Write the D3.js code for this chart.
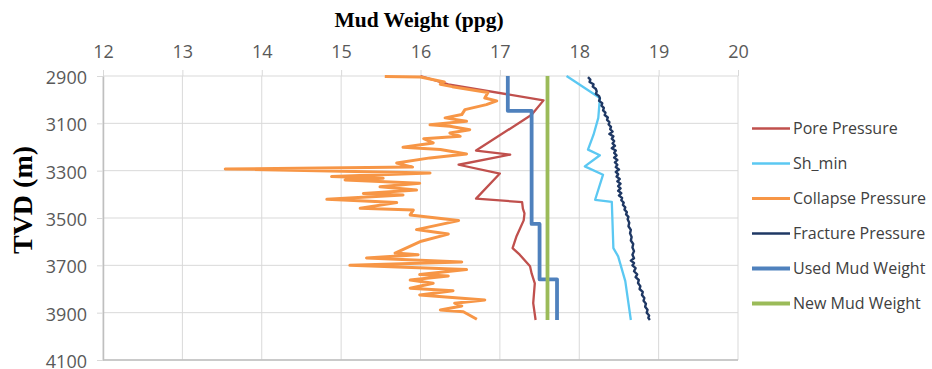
<!DOCTYPE html>
<html lang="en">
<head>
<meta charset="utf-8">
<title>Mud Weight vs TVD</title>
<script src="https://cdn.jsdelivr.net/npm/d3@7/dist/d3.min.js"></script>
<style>
  body { margin: 0; background: #fff; }
  .axis path { stroke: #bfbfbf; }
  .axis line { stroke: #d9d9d9; }
  .axis text { fill: #595959; font-family: "Open Sans", sans-serif; font-size: 18px; }
  .grid line { stroke: #d9d9d9; stroke-width: 1; }
  .legend text { fill: #404040; font-family: "Open Sans", sans-serif; font-size: 16px; }
</style>
</head>
<body>
<script>
// depth (m) and mud weight (ppg)
var xTicks = [12, 13, 14, 15, 16, 17, 18, 19, 20];
var yTicks = [2900, 3100, 3300, 3500, 3700, 3900, 4100];

var porePressure = [
  [2900, 16.0], [2935, 16.35], [3003, 17.55], [3064, 17.4], [3215, 16.7],
  [3232, 17.13], [3275, 16.48], [3312, 17.0], [3418, 16.7], [3433, 17.28],
  [3460, 17.29], [3480, 17.31], [3510, 17.3], [3577, 17.21], [3627, 17.16],
  [3655, 17.25], [3704, 17.38], [3734, 17.4], [3776, 17.44], [3860, 17.42],
  [3931, 17.45]
];

var shMin = [
  [2900, 17.84], [2993, 18.26], [3077, 18.24], [3148, 18.18], [3211, 18.11],
  [3235, 18.26], [3282, 18.07], [3317, 18.3], [3423, 18.2], [3432, 18.41],
  [3627, 18.43], [3662, 18.49], [3767, 18.58], [3931, 18.65]
];

var collapsePressure = [
  [2902, 15.55], [2904, 16.0], [2925, 16.3], [2935, 16.25], [2945, 16.4],
  [2970, 16.85], [2993, 16.81], [3005, 16.96], [3021, 16.83], [3042, 16.56],
  [3063, 16.52], [3077, 16.31], [3091, 16.58], [3106, 16.12], [3112, 16.37],
  [3127, 16.62], [3141, 16.37], [3155, 16.5], [3165, 16.04], [3183, 16.16],
  [3201, 15.78], [3211, 16.25], [3230, 16.58], [3246, 16.12], [3268, 15.7],
  [3285, 15.9], [3293, 13.54], [3310, 16.12], [3325, 14.88], [3332, 15.53],
  [3339, 15.05], [3353, 15.99], [3368, 15.49], [3382, 15.95], [3396, 15.28],
  [3403, 15.78], [3421, 14.82], [3435, 15.7], [3459, 15.24], [3466, 15.91],
  [3487, 15.87], [3511, 16.48], [3549, 15.95], [3568, 16.35], [3598, 16.01],
  [3648, 15.68], [3655, 15.97], [3669, 15.32], [3686, 16.52], [3700, 15.11],
  [3718, 16.58], [3739, 15.99], [3745, 16.35], [3762, 15.87], [3776, 16.16],
  [3797, 15.87], [3807, 16.41], [3825, 15.99], [3846, 16.81], [3860, 16.43],
  [3872, 16.52], [3889, 16.25], [3896, 16.54], [3928, 16.71]
];

var fracturePressure = [
  [2905, 18.11], [2915, 18.14], [2925, 18.13], [2935, 18.18], [2945, 18.17],
  [2955, 18.21], [2965, 18.22], [2975, 18.21], [2985, 18.25], [2995, 18.26],
  [3005, 18.25], [3015, 18.29], [3025, 18.28], [3035, 18.31], [3045, 18.3],
  [3055, 18.33], [3065, 18.32], [3075, 18.36], [3085, 18.35], [3095, 18.38],
  [3105, 18.37], [3115, 18.4], [3125, 18.39], [3135, 18.42], [3145, 18.38],
  [3155, 18.43], [3165, 18.41], [3175, 18.44], [3185, 18.42], [3195, 18.45],
  [3205, 18.41], [3215, 18.46], [3225, 18.44], [3235, 18.47], [3245, 18.44],
  [3255, 18.48], [3265, 18.45], [3275, 18.48], [3285, 18.46], [3295, 18.5],
  [3305, 18.46], [3315, 18.49], [3325, 18.47], [3335, 18.51], [3345, 18.48],
  [3355, 18.52], [3365, 18.49], [3375, 18.52], [3385, 18.49], [3395, 18.53],
  [3405, 18.5], [3415, 18.54], [3425, 18.53], [3435, 18.56], [3445, 18.55],
  [3455, 18.58], [3465, 18.57], [3475, 18.6], [3485, 18.59], [3495, 18.62],
  [3505, 18.61], [3520, 18.63], [3535, 18.62], [3550, 18.65], [3565, 18.64],
  [3580, 18.66], [3595, 18.65], [3610, 18.68], [3625, 18.67], [3640, 18.69],
  [3655, 18.67], [3670, 18.69], [3680, 18.65], [3690, 18.69], [3700, 18.67],
  [3712, 18.71], [3725, 18.69], [3738, 18.73], [3750, 18.71], [3762, 18.75],
  [3775, 18.74], [3788, 18.77], [3800, 18.76], [3812, 18.8], [3825, 18.79],
  [3838, 18.82], [3850, 18.81], [3862, 18.84], [3875, 18.83], [3888, 18.86],
  [3900, 18.85], [3912, 18.88], [3922, 18.87], [3931, 18.89]
];

var usedMudWeight = [
  [2900, 17.1], [3047, 17.1], [3047, 17.4], [3525, 17.4], [3525, 17.5],
  [3759, 17.5], [3759, 17.72], [3931, 17.72]
];

var newMudWeight = [[2900, 17.6], [3931, 17.6]];

var seriesNames = ["Pore Pressure", "Sh_min", "Collapse Pressure", "Fracture Pressure", "Used Mud Weight", "New Mud Weight"];
var seriesData = [porePressure, shMin, collapsePressure, fracturePressure, usedMudWeight, newMudWeight];
var seriesColors = ["#c0504d", "#5bc8f2", "#f79646", "#1f3864", "#4f81bd", "#9bbb59"];
var seriesWidths = [2.3, 2.3, 3, 2.4, 3.8, 3.8];

var width = 932, height = 369;
var svg = d3.select("body").append("svg").attr("width", width).attr("height", height);

var x = d3.scaleLinear().domain([12, 20]).range([103, 738]);
var y = d3.scaleLinear().domain([2900, 4100]).range([76, 360]);

// gridlines
svg.append("g").attr("class", "grid")
  .selectAll("line.v").data(xTicks).enter().append("line")
  .attr("x1", function (d) { return x(d); }).attr("x2", function (d) { return x(d); })
  .attr("y1", y(2900)).attr("y2", y(4100));
svg.append("g").attr("class", "grid")
  .selectAll("line.h").data(yTicks).enter().append("line")
  .attr("x1", x(12)).attr("x2", x(20))
  .attr("y1", function (d) { return y(d); }).attr("y2", function (d) { return y(d); });

// top axis
var xAxis = d3.axisTop(x).tickValues(xTicks).tickSize(6).tickSizeOuter(0).tickFormat(d3.format("d"));
var gx = svg.append("g").attr("class", "axis").attr("transform", "translate(0," + y(2900) + ")").call(xAxis);
gx.select(".domain").remove();
gx.selectAll("text").attr("dy", "-0.5em");

// left axis
var yAxis = d3.axisLeft(y).tickValues(yTicks).tickSize(6).tickSizeOuter(0).tickFormat(d3.format("d"));
var gy = svg.append("g").attr("class", "axis").attr("transform", "translate(" + x(12) + ",0)").call(yAxis);
gy.select(".domain").attr("stroke", "#bfbfbf").attr("stroke-width", 1.5);
gy.selectAll("text").attr("x", -16).attr("dy", "0.42em");

// bottom axis line
svg.append("line")
  .attr("x1", x(12)).attr("x2", x(20)).attr("y1", y(4100)).attr("y2", y(4100))
  .attr("stroke", "#bfbfbf").attr("stroke-width", 1.5);

// series
var line = d3.line()
  .x(function (d) { return x(d[1]); })
  .y(function (d) { return y(d[0]); });

seriesData.forEach(function (data, i) {
  svg.append("path")
    .datum(data)
    .attr("d", line)
    .attr("fill", "none")
    .attr("stroke", seriesColors[i])
    .attr("stroke-width", seriesWidths[i])
    .attr("stroke-linejoin", "round");
});

// titles
svg.append("text")
  .attr("x", 419).attr("y", 27)
  .attr("text-anchor", "middle")
  .style("font-family", "'Liberation Serif', 'Times New Roman', serif")
  .style("font-size", "21.5px").style("font-weight", "bold")
  .text("Mud Weight (ppg)");

svg.append("text")
  .attr("transform", "translate(32,200) rotate(-90)")
  .attr("text-anchor", "middle")
  .style("font-family", "'Liberation Serif', 'Times New Roman', serif")
  .style("font-size", "28px").style("font-weight", "bold")
  .text("TVD (m)");

// legend
var legend = svg.append("g").attr("class", "legend");
seriesNames.forEach(function (name, i) {
  var ly = 128.5 + i * 35;
  legend.append("line")
    .attr("x1", 752).attr("x2", 790).attr("y1", ly).attr("y2", ly)
    .attr("stroke", seriesColors[i]).attr("stroke-width", seriesWidths[i]);
  legend.append("text")
    .attr("x", 793).attr("y", ly).attr("dy", "0.35em")
    .text(name);
});
</script>
</body>
</html>
